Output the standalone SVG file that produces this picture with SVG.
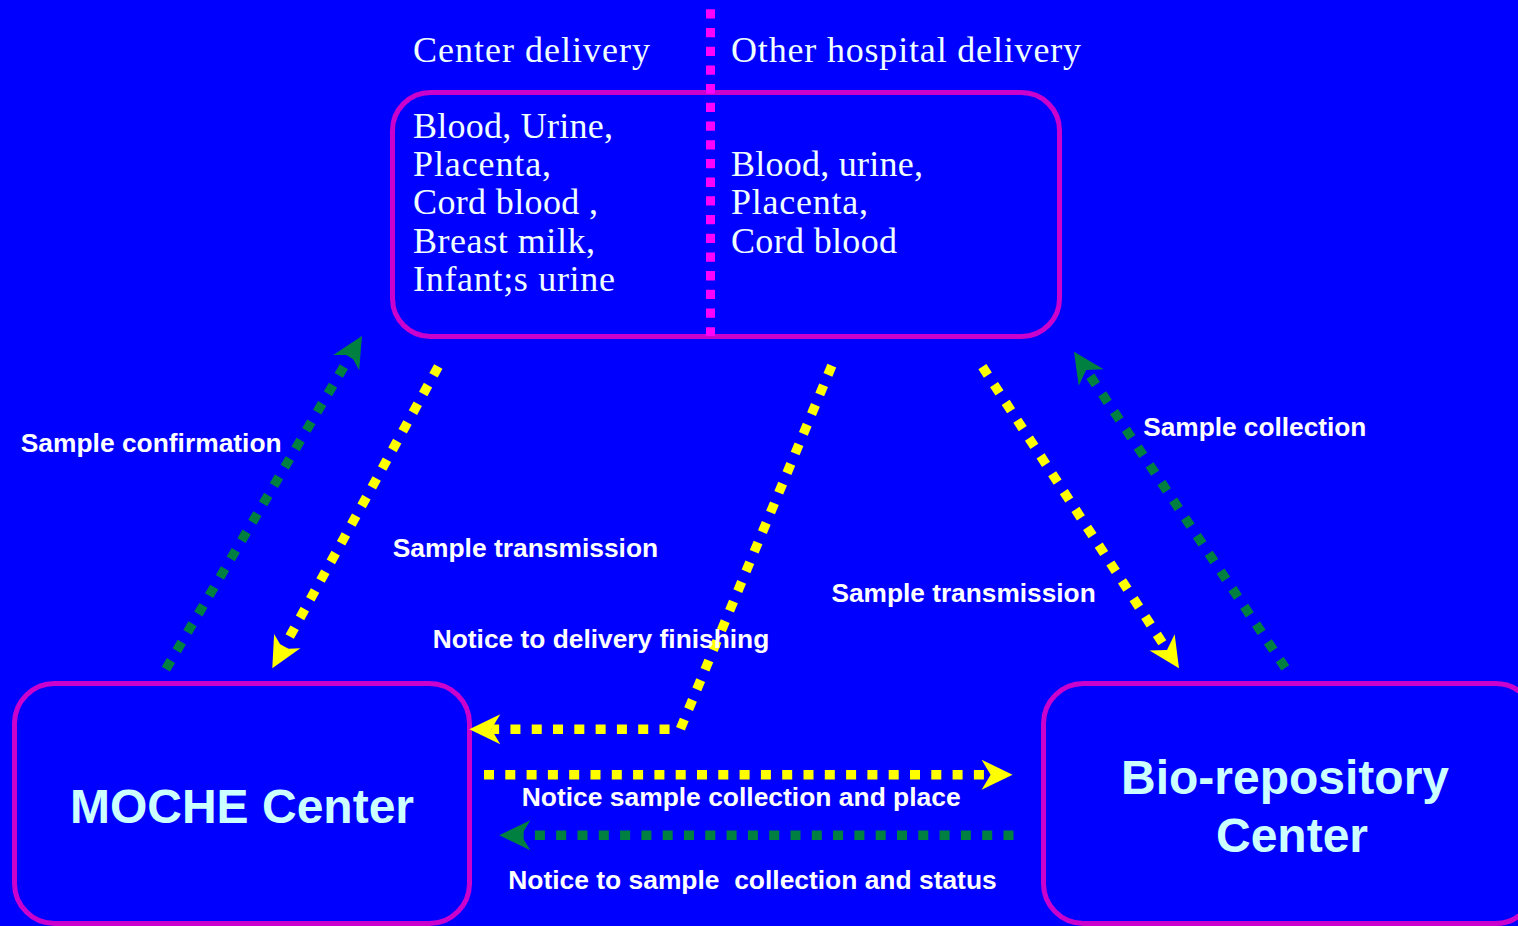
<svg xmlns="http://www.w3.org/2000/svg" width="1518" height="926" viewBox="0 0 1518 926">
<style>
.box{fill:#0000ff;stroke:#cc00cc;stroke-width:5}
.divider{fill:none;stroke:#ff00ff;stroke-width:9;stroke-dasharray:9.3 9.4}
.serif{font-family:"Liberation Serif","Times New Roman",serif;font-size:36px;fill:#f0ffff}
.title{font-family:"Liberation Sans",Arial,sans-serif;font-weight:bold;font-size:48px;fill:#ccffff;text-anchor:middle}
.lbl{font-family:"Liberation Sans",Arial,sans-serif;font-weight:bold;font-size:26px;fill:#ffffff}
.y{fill:none;stroke:#ffff00;stroke-width:9.5;stroke-dasharray:10 11.3}
.g{fill:none;stroke:#008040;stroke-width:9.5;stroke-dasharray:10 11.3}
</style>
<defs>
<marker id="ah-y" viewBox="-10 -16 34 32" markerWidth="34" markerHeight="32" refX="0" refY="0" markerUnits="userSpaceOnUse" orient="auto">
<path d="M22,0 L-9,-15 L0,0 L-9,15 Z" fill="#ffff00"/>
</marker>
<marker id="ah-g" viewBox="-10 -16 34 32" markerWidth="34" markerHeight="32" refX="0" refY="0" markerUnits="userSpaceOnUse" orient="auto">
<path d="M22,0 L-9,-15 L0,0 L-9,15 Z" fill="#008040"/>
</marker>
</defs>
<rect x="0" y="0" width="1518" height="926" fill="#0000ff"/>

<g id="samples">
<rect class="box" x="392.5" y="92.5" width="667" height="244" rx="38" ry="38"/>
<path class="divider" d="M710.5,-9.4 L710.5,336"/>
<text class="serif" x="413" y="62" textLength="237" lengthAdjust="spacing">Center delivery</text>
<text class="serif" x="731" y="62" textLength="350" lengthAdjust="spacing">Other hospital delivery</text>
<text class="serif" x="413" y="138" textLength="200" lengthAdjust="spacing">Blood, Urine,</text>
<text class="serif" x="413" y="176" textLength="138" lengthAdjust="spacing">Placenta,</text>
<text class="serif" x="413" y="214" textLength="185" lengthAdjust="spacing">Cord blood ,</text>
<text class="serif" x="413" y="253" textLength="182" lengthAdjust="spacing">Breast milk,</text>
<text class="serif" x="413" y="291" textLength="202" lengthAdjust="spacing">Infant;s urine</text>
<text class="serif" x="731" y="176" textLength="192" lengthAdjust="spacing">Blood, urine,</text>
<text class="serif" x="731" y="214" textLength="137" lengthAdjust="spacing">Placenta,</text>
<text class="serif" x="731" y="253" textLength="166" lengthAdjust="spacing">Cord blood</text>
</g>

<g id="moche">
<rect class="box" x="14.5" y="683.5" width="455" height="240" rx="40" ry="40"/>
<text class="title" x="242" y="823">MOCHE Center</text>
</g>

<g id="biorepo">
<rect class="box" x="1043.5" y="683.5" width="492" height="240" rx="40" ry="40"/>
<text class="title" x="1285" y="794">Bio-repository</text>
<text class="title" x="1292" y="852">Center</text>
</g>

<g id="connectors">
<path class="g" d="M165.9,669.1 L350.8,354.9" marker-end="url(#ah-g)"/>
<path class="y" d="M438.3,366.5 L282.9,649" marker-end="url(#ah-y)"/>
<path class="y" d="M831.8,365.6 L680.2,729.3 L491.3,729.3" marker-end="url(#ah-y)"/>
<path class="y" d="M484,774.7 L990.6,774.7" marker-end="url(#ah-y)"/>
<path class="g" d="M1013.5,835.3 L521.3,835.3" marker-end="url(#ah-g)"/>
<path class="y" d="M982.4,366.7 L1167,649.9" marker-end="url(#ah-y)"/>
<path class="g" d="M1285.3,667.9 L1086.2,370" marker-end="url(#ah-g)"/>
</g>

<g id="labels">
<text class="lbl" x="20.7" y="452.3" textLength="261" lengthAdjust="spacingAndGlyphs">Sample confirmation</text>
<text class="lbl" x="392.7" y="557.3" textLength="265.5" lengthAdjust="spacingAndGlyphs">Sample transmission</text>
<text class="lbl" x="432.7" y="648.3" textLength="336.6" lengthAdjust="spacingAndGlyphs">Notice to delivery finishing</text>
<text class="lbl" x="831.4" y="601.7" textLength="264.3" lengthAdjust="spacingAndGlyphs">Sample transmission</text>
<text class="lbl" x="1143.2" y="436" textLength="223.2" lengthAdjust="spacingAndGlyphs">Sample collection</text>
<text class="lbl" x="521.7" y="806" textLength="439" lengthAdjust="spacingAndGlyphs">Notice sample collection and place</text>
<text class="lbl" x="508.3" y="889" textLength="488.4" lengthAdjust="spacingAndGlyphs" xml:space="preserve">Notice to sample  collection and status</text>
</g>
</svg>
